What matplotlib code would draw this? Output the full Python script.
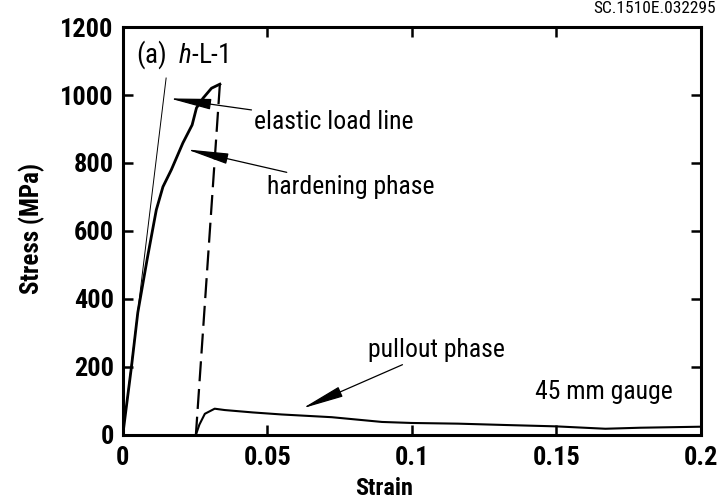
import matplotlib
matplotlib.use("Agg")
import matplotlib.pyplot as plt
from matplotlib import font_manager

# data
strain_elastic = [0.0, 0.0150]
stress_elastic = [0, 1050]

strain_hard = [0.0, 0.0030, 0.0052, 0.0085, 0.0116, 0.0139, 0.0168, 0.0208,
               0.0240, 0.0255, 0.0278, 0.0307, 0.0336]
stress_hard = [0, 200, 360, 520, 662, 730, 780, 859, 912, 962, 991, 1020, 1032]

strain_drop = [0.0336, 0.0253]
stress_drop = [1032, 0]

strain_pull = [0.0255, 0.0265, 0.0284, 0.0318, 0.0353, 0.0450, 0.0550, 0.0723,
               0.0897, 0.1000, 0.1160, 0.1325, 0.1500, 0.1670, 0.1790, 0.2000]
stress_pull = [5, 30, 62, 77, 73, 66, 60, 52, 38, 35, 33, 29, 25, 18, 21, 24]

xticks = [0, 0.05, 0.1, 0.15, 0.2]
xticklabels = ["0", "0.05", "0.1", "0.15", "0.2"]
yticks = [0, 200, 400, 600, 800, 1000, 1200]

# narrow font like the original
names = {f.name for f in font_manager.fontManager.ttflist}
fam = ["DejaVu Sans"]
stretch = "condensed"
for cand in ["Roboto Condensed", "Liberation Sans Narrow"]:
    if cand in names:
        fam = [cand, "DejaVu Sans"]
        stretch = "normal"
        break
plt.rcParams["font.family"] = fam
plt.rcParams["font.stretch"] = stretch
plt.rcParams["mathtext.fontset"] = "custom"
plt.rcParams["mathtext.it"] = fam[0] + ":italic"
plt.rcParams["mathtext.rm"] = fam[0]

fig = plt.figure(figsize=(7.18, 5.01), dpi=100)
ax = fig.add_axes([0.171, 0.132, 0.805, 0.814])

ax.plot(strain_elastic, stress_elastic, color="black", lw=0.7)
ax.plot(strain_hard, stress_hard, color="black", lw=2.0)
ax.plot(strain_drop, stress_drop, color="black", lw=1.6, dashes=(9, 3.5))
ax.plot(strain_pull, stress_pull, color="black", lw=1.5)

ax.set_xlim(0, 0.2)
ax.set_ylim(0, 1200)
ax.set_xticks(xticks)
ax.set_xticklabels(xticklabels)
ax.set_yticks(yticks)
ax.tick_params(direction="in", length=7, width=1.8, top=True, right=True,
               labelsize=19)
ax.tick_params(axis="x", pad=8)
ax.tick_params(axis="y", pad=6.5)
for lab in ax.get_xticklabels() + ax.get_yticklabels():
    lab.set_fontweight(900)
for s in ax.spines.values():
    s.set_linewidth(2.2)

ax.set_xlabel("Strain", fontsize=17.5, fontweight=900)
ax.xaxis.set_label_coords(0.452, -0.103)
ax.set_ylabel("Stress (MPa)", fontsize=18, fontweight=900)
ax.yaxis.set_label_coords(-0.134, 0.507)

ax.text(0.0045, 1120, "(a)  $h$-L-1", fontsize=19.5, va="center", ha="left")

arrow = dict(arrowstyle="-|>,head_length=1.4,head_width=0.18", color="black",
             lw=0.9, shrinkA=0, shrinkB=0)
ax.annotate("elastic load line", xy=(0.0162, 990), xytext=(0.0455, 922),
            fontsize=18.5, va="center", ha="left", arrowprops=arrow)
ax.annotate("hardening phase", xy=(0.0222, 840), xytext=(0.0500, 729),
            fontsize=18.5, va="center", ha="left", arrowprops=arrow)
ax.annotate("pullout phase", xy=(0.0622, 78), xytext=(0.0848, 250),
            fontsize=18.5, va="center", ha="left", arrowprops=arrow)
ax.text(0.1425, 126, "45 mm gauge", fontsize=18.5, va="center", ha="left")

fig.text(0.997, 0.999, "SC.1510E.032295", fontsize=12.5, ha="right", va="top")

fig.savefig("out.png", dpi=100)
